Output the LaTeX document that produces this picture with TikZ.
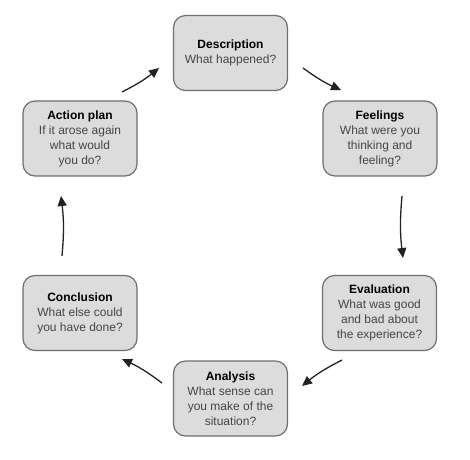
\documentclass[tikz,border=0pt]{standalone}
\usepackage{fontspec}
\setmainfont{Liberation Sans}
\usetikzlibrary{arrows.meta}
\definecolor{boxfill}{HTML}{DCDCDC}
\definecolor{boxline}{HTML}{6E6E6E}
\definecolor{bodytext}{HTML}{454545}
\definecolor{arrowcol}{HTML}{222222}
\begin{document}
\begin{tikzpicture}[x=1pt,y=-1pt,
  stagebox/.style={draw=boxline, fill=boxfill, line width=1.2pt, rounded corners=12pt,
    minimum width=114pt, minimum height=75pt, align=center, inner sep=2pt,
    font=\fontsize{12}{15}\selectfont, text=bodytext},
  flow/.style={draw=arrowcol, line width=1.3pt, -{Triangle[length=10pt,width=9pt]}},
  ttl/.style={}]
\useasboundingbox (0,0) rectangle (470,459);
\node[stagebox] (desc) at (230.5,53) {\textbf{\textcolor{black}{Description}}\\What happened?};
\node[stagebox] (feel) at (380,138.5) {\textbf{\textcolor{black}{Feelings}}\\What were you\\thinking and\\feeling?};
\node[stagebox] (eval) at (379.5,313) {\textbf{\textcolor{black}{Evaluation}}\\What was good\\and bad about\\the experience?};
\node[stagebox] (anal) at (230.5,398.5) {\textbf{\textcolor{black}{Analysis}}\\What sense can\\you make of the\\situation?};
\node[stagebox] (conc) at (80,313) {\textbf{\textcolor{black}{Conclusion}}\\What else could\\you have done?};
\node[stagebox] (act) at (80,138.5) {\textbf{\textcolor{black}{Action plan}}\\If it arose again\\what would\\you do?};
\coordinate (a1s) at (122,92);  \coordinate (a1e) at (159,68);
\coordinate (a2s) at (303,68);  \coordinate (a2e) at (341,90);
\coordinate (a3s) at (402,196); \coordinate (a3e) at (403,258);
\coordinate (a4s) at (342,360); \coordinate (a4e) at (302,386);
\coordinate (a5s) at (162,383); \coordinate (a5e) at (122,359);
\coordinate (a6s) at (62,256);  \coordinate (a6e) at (61,196);
\draw[flow] (a1s) to[bend right=6] (a1e);
\draw[flow] (a2s) to[bend right=6] (a2e);
\draw[flow] (a3s) to[bend right=6] (a3e);
\draw[flow] (a4s) to[bend right=6] (a4e);
\draw[flow] (a5s) to[bend right=6] (a5e);
\draw[flow] (a6s) to[bend right=6] (a6e);
\end{tikzpicture}
\end{document}
